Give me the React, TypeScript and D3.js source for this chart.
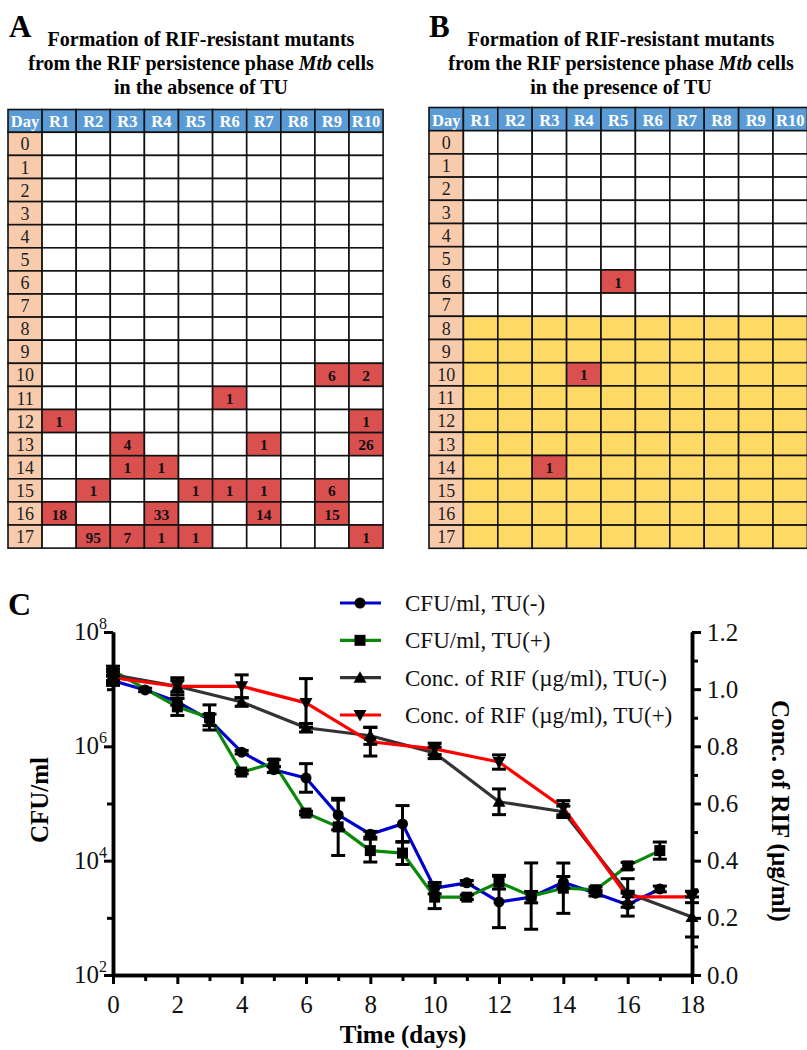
import React, { useEffect, useRef } from "react";
import * as d3 from "d3";

// ---- panels A and B: mutant tables ----
const DAYS = [0, 1, 2, 3, 4, 5, 6, 7, 8, 9, 10, 11, 12, 13, 14, 15, 16, 17];
const REPS = ["R1", "R2", "R3", "R4", "R5", "R6", "R7", "R8", "R9", "R10"];

// [day, replicate, number of RIF-resistant mutants]
const MUTANTS_NO_TU: [number, string, number][] = [
  [10, "R9", 6], [10, "R10", 2],
  [11, "R6", 1],
  [12, "R1", 1], [12, "R10", 1],
  [13, "R3", 4], [13, "R7", 1], [13, "R10", 26],
  [14, "R3", 1], [14, "R4", 1],
  [15, "R2", 1], [15, "R5", 1], [15, "R6", 1], [15, "R7", 1], [15, "R9", 6],
  [16, "R1", 18], [16, "R4", 33], [16, "R7", 14], [16, "R9", 15],
  [17, "R2", 95], [17, "R3", 7], [17, "R4", 1], [17, "R5", 1], [17, "R10", 1],
];
const MUTANTS_TU: [number, string, number][] = [
  [6, "R5", 1],
  [10, "R4", 1],
  [14, "R3", 1],
];
const TU_SHADE_FROM_DAY = 8;

const TITLE_A = ["Formation of RIF-resistant mutants", "from the RIF persistence phase |Mtb| cells", "in the absence of TU"];
const TITLE_B = ["Formation of RIF-resistant mutants", "from the RIF persistence phase |Mtb| cells", "in the presence of TU"];

// ---- panel C: kill curves and RIF concentration ----
const CFU_NEG_DAYS = [0, 1, 2, 3, 4, 5, 6, 7, 8, 9, 10, 11, 12, 13, 14, 15, 16, 17];
const CFU_NEG = [1.4e7, 9.7e6, 6.0e6, 2.9e6, 7.9e5, 3.9e5, 2.8e5, 6.3e4, 2.9e4, 4.4e4, 3.3e3, 4.1e3, 1.9e3, 2.3e3, 4.2e3, 2.7e3, 1.7e3, 3.2e3];
const CFU_NEG_ERR = [0.08, 0.03, 0.06, 0.1, 0.03, 0.05, 0.25, 0.26, 0.05, 0.32, 0.1, 0.04, 0.45, 0.1, 0.1, 0.05, 0.2, 0.05]; // log10 units

const CFU_POS_DAYS = [0, 2, 3, 4, 5, 6, 7, 8, 9, 10, 11, 12, 13, 14, 15, 16, 17];
const CFU_POS = [2.1e7, 4.9e6, 3.2e6, 3.55e5, 5.1e5, 6.8e4, 3.9e4, 1.5e4, 1.36e4, 2.3e3, 2.3e3, 4.2e3, 2.4e3, 3.3e3, 3.1e3, 8.1e3, 1.5e4];
const CFU_POS_ERR = [0.08, 0.15, 0.22, 0.03, 0.06, 0.03, 0.5, 0.2, 0.2, 0.2, 0.04, 0.12, 0.58, 0.44, 0.05, 0.06, 0.15];

const CONC_DAYS = [0, 2, 4, 6, 8, 10, 12, 14, 16, 18];
const CONC_NEG = [1.05, 1.01, 0.955, 0.865, 0.837, 0.777, 0.606, 0.571, 0.287, 0.203];
const CONC_NEG_SD = [0.02, 0.02, 0.015, 0.015, 0.03, 0.02, 0.045, 0.02, 0.05, 0.07];
const CONC_POS = [1.04, 1.01, 1.01, 0.952, 0.816, 0.791, 0.745, 0.585, 0.273, 0.273];
const CONC_POS_SD = [0.02, 0.03, 0.04, 0.085, 0.05, 0.02, 0.025, 0.025, 0.02, 0.02];

const LEGEND = ["CFU/ml, TU(-)", "CFU/ml, TU(+)", "Conc. of RIF (\u00b5g/ml), TU(-)", "Conc. of RIF (\u00b5g/ml), TU(+)"];
const X_TICKS = [0, 2, 4, 6, 8, 10, 12, 14, 16, 18];
const X_MINOR = [1, 3, 5, 7, 9, 11, 13, 15, 17];
const YL_TICKS = [1e2, 1e4, 1e6, 1e8];
const YL_MINOR = [1e3, 1e5, 1e7];
const YR_TICKS = [0, 0.2, 0.4, 0.6, 0.8, 1.0, 1.2];
const YR_MINOR = [0.1, 0.3, 0.5, 0.7, 0.9, 1.1];

const FONT = "'Liberation Serif', 'Times New Roman', serif";

function drawTitle(svg: any, lines: string[], cx: number, y0: number) {
  lines.forEach((line, i) => {
    const t = svg.append("text")
      .attr("x", cx).attr("y", y0 + i * 24)
      .attr("text-anchor", "middle")
      .style("font-family", FONT).style("font-weight", "bold").style("font-size", "20px")
    line.split("|").forEach((part, j) => {
      t.append("tspan").text(part).style("font-style", j % 2 === 1 ? "italic" : "normal")
    })
  })
}

function drawTable(svg: any, x0: number, y0: number, colW: number, headH: number, rowH: number,
  mutants: [number, string, number][], shadeFrom: number | null) {
  const cols = ["Day"].concat(REPS)
  const x = d3.scaleBand().domain(cols).range([x0, x0 + cols.length * colW])
  const y = d3.scaleBand().domain(DAYS.map(String)).range([y0 + headH, y0 + headH + DAYS.length * rowH])
  const g = svg.append("g")

  const lookup = new Map(mutants.map(m => [m[0] + "_" + m[1], m[2]]))

  g.selectAll("rect.head").data(cols).enter().append("rect")
    .attr("x", (d: string) => x(d)).attr("y", y0)
    .attr("width", colW).attr("height", headH)
    .style("fill", "#5b9bd5").style("stroke", "#111").style("stroke-width", 1.6)
  g.selectAll("text.head").data(cols).enter().append("text")
    .attr("x", (d: string) => x(d)! + colW / 2).attr("y", y0 + headH - 5)
    .attr("text-anchor", "middle")
    .style("font-family", FONT).style("font-weight", "bold").style("font-size", "16.5px")
    .style("fill", "#fff").text((d: string) => d)

  DAYS.forEach(day => {
    const ry = y(String(day))!
    g.append("rect").attr("x", x("Day")).attr("y", ry).attr("width", colW).attr("height", rowH)
      .style("fill", "#f8cbad").style("stroke", "#111").style("stroke-width", 1.6)
    g.append("text").attr("x", x("Day")! + colW / 2).attr("y", ry + rowH - 5)
      .attr("text-anchor", "middle")
      .style("font-family", FONT).style("font-size", "18px").style("fill", "#222")
      .text(day)
    REPS.forEach(rep => {
      const n = lookup.get(day + "_" + rep)
      let fill = "#ffffff"
      if (shadeFrom !== null && day >= shadeFrom) fill = "#ffd966"
      if (n !== undefined) fill = "#d9504f"
      g.append("rect").attr("x", x(rep)).attr("y", ry).attr("width", colW).attr("height", rowH)
        .style("fill", fill).style("stroke", "#111").style("stroke-width", 1.6)
      if (n !== undefined) {
        g.append("text").attr("x", x(rep)! + colW / 2).attr("y", ry + rowH - 5.5)
          .attr("text-anchor", "middle")
          .style("font-family", FONT).style("font-weight", "bold").style("font-size", "15.5px")
          .style("fill", "#111").text(n)
      }
    })
  })
}

function drawMarker(g: any, kind: string, cx: number, cy: number) {
  if (kind === "circle") {
    g.append("circle").attr("cx", cx).attr("cy", cy).attr("r", 5.5).style("fill", "#000")
  } else if (kind === "square") {
    g.append("rect").attr("x", cx - 5.5).attr("y", cy - 5.5).attr("width", 11).attr("height", 11).style("fill", "#000")
  } else if (kind === "up") {
    g.append("path").attr("d", `M${cx},${cy - 6.5}L${cx + 6.5},${cy + 5}L${cx - 6.5},${cy + 5}Z`).style("fill", "#000")
  } else {
    g.append("path").attr("d", `M${cx},${cy + 6.5}L${cx + 6.5},${cy - 5}L${cx - 6.5},${cy - 5}Z`).style("fill", "#000")
  }
}

function App() {
  const ref = useRef<SVGSVGElement>(null)

  useEffect(() => {
    const svg = d3.select(ref.current)
    svg.selectAll("*").remove()

    // panel letters and titles
    svg.append("text").attr("x", 9).attr("y", 37).text("A")
      .style("font-family", FONT).style("font-weight", "bold").style("font-size", "31px")
    svg.append("text").attr("x", 429).attr("y", 37).text("B")
      .style("font-family", FONT).style("font-weight", "bold").style("font-size", "31px")
    svg.append("text").attr("x", 8).attr("y", 615).text("C")
      .style("font-family", FONT).style("font-weight", "bold").style("font-size", "32px")
    drawTitle(svg, TITLE_A, 201, 46)
    drawTitle(svg, TITLE_B, 621, 46)

    drawTable(svg, 8, 109.5, 34.1, 22.8, 23.1, MUTANTS_NO_TU, null)
    drawTable(svg, 429, 107.5, 34.4, 23.2, 23.2, MUTANTS_TU, TU_SHADE_FROM_DAY)

    // ---- chart C ----
    const x = d3.scaleLinear().domain([0, 18]).range([113, 692])
    const yL = d3.scaleLog().domain([1e2, 1e8]).range([975, 632])
    const yR = d3.scaleLinear().domain([0, 1.2]).range([975, 632])

    const axisStyle = (g: any) => {
      g.select(".domain").style("stroke", "#000").style("stroke-width", 3.5)
      g.selectAll(".tick line").style("stroke", "#000").style("stroke-width", 3)
    }

    const gx = svg.append("g").attr("transform", "translate(0,975)")
      .call(d3.axisBottom(x).tickValues(X_TICKS).tickSize(9).tickSizeOuter(0).tickPadding(11).tickFormat(d3.format("d")))
    axisStyle(gx)
    gx.selectAll(".tick text").style("font-family", FONT).style("font-size", "25px").style("fill", "#111")
    svg.append("g").attr("transform", "translate(0,975)")
      .call(d3.axisBottom(x).tickValues(X_MINOR).tickSize(6).tickSizeOuter(0).tickFormat(() => ""))
      .call(axisStyle)

    const gl = svg.append("g").attr("transform", "translate(113,0)")
      .call(d3.axisLeft(yL).tickValues(YL_TICKS).tickSize(9).tickSizeOuter(0).tickFormat(() => ""))
    axisStyle(gl)
    svg.append("g").attr("transform", "translate(113,0)")
      .call(d3.axisLeft(yL).tickValues(YL_MINOR).tickSize(6).tickSizeOuter(0).tickFormat(() => ""))
      .call(axisStyle)
    YL_TICKS.forEach(v => {
      const t = svg.append("text").attr("x", 107).attr("y", yL(v) + 8).attr("text-anchor", "end")
        .style("font-family", FONT).style("font-size", "25px").style("fill", "#111")
      t.append("tspan").text("10")
      t.append("tspan").attr("dy", -11).style("font-size", "16px").text(Math.round(Math.log10(v)))
    })

    const gr = svg.append("g").attr("transform", "translate(692,0)")
      .call(d3.axisRight(yR).tickValues(YR_TICKS).tickSize(9).tickSizeOuter(0).tickPadding(6).tickFormat(d3.format(".1f")))
    axisStyle(gr)
    gr.selectAll(".tick text").style("font-family", FONT).style("font-size", "25px").style("fill", "#111")
    svg.append("g").attr("transform", "translate(692,0)")
      .call(d3.axisRight(yR).tickValues(YR_MINOR).tickSize(6).tickSizeOuter(0).tickFormat(() => ""))
      .call(axisStyle)

    svg.append("text").attr("x", 403).attr("y", 1043).attr("text-anchor", "middle")
      .style("font-family", FONT).style("font-weight", "bold").style("font-size", "25px").text("Time (days)")
    svg.append("text").attr("transform", "translate(48,800) rotate(-90)").attr("text-anchor", "middle")
      .style("font-family", FONT).style("font-weight", "bold").style("font-size", "25px").text("CFU/ml")
    svg.append("text").attr("transform", "translate(772,811) rotate(90)").attr("text-anchor", "middle")
      .style("font-family", FONT).style("font-weight", "bold").style("font-size", "25px").text("Conc. of RIF (\u00b5g/ml)")

    const series = [
      { days: CFU_NEG_DAYS, vals: CFU_NEG, err: CFU_NEG_ERR, log: true, color: "#0000cc", marker: "circle" },
      { days: CFU_POS_DAYS, vals: CFU_POS, err: CFU_POS_ERR, log: true, color: "#0a880a", marker: "square" },
      { days: CONC_DAYS, vals: CONC_NEG, err: CONC_NEG_SD, log: false, color: "#333333", marker: "up" },
      { days: CONC_DAYS, vals: CONC_POS, err: CONC_POS_SD, log: false, color: "#ff0000", marker: "down" },
    ]
    const py = (s: any, i: number) => s.log ? yL(s.vals[i]) : yR(s.vals[i])
    const plot = svg.append("g")

    series.forEach(s => {
      const line = d3.line<number>().x((d, i) => x(s.days[i])).y((d, i) => py(s, i))
      plot.append("path").attr("d", line(s.vals)).style("fill", "none")
        .style("stroke", s.color).style("stroke-width", 3.2).style("stroke-linejoin", "round")
    })
    series.forEach(s => {
      s.vals.forEach((v: number, i: number) => {
        const cx = x(s.days[i])
        const lo = s.log ? yL(Math.pow(10, Math.log10(v) - s.err[i])) : yR(v - s.err[i])
        const hi = s.log ? yL(Math.pow(10, Math.log10(v) + s.err[i])) : yR(v + s.err[i])
        const eb = plot.append("g").style("stroke", "#000").style("stroke-width", 3)
        eb.append("line").attr("x1", cx).attr("x2", cx).attr("y1", lo).attr("y2", hi)
        eb.append("line").attr("x1", cx - 7).attr("x2", cx + 7).attr("y1", lo).attr("y2", lo)
        eb.append("line").attr("x1", cx - 7).attr("x2", cx + 7).attr("y1", hi).attr("y2", hi)
      })
    })
    series.forEach(s => {
      s.vals.forEach((v: number, i: number) => drawMarker(plot, s.marker, x(s.days[i]), py(s, i)))
    })

    // legend
    const legY = d3.scalePoint().domain(LEGEND).range([603, 715])
    series.forEach((s, i) => {
      const ly = legY(LEGEND[i])!
      svg.append("line").attr("x1", 340).attr("x2", 381).attr("y1", ly).attr("y2", ly)
        .style("stroke", s.color).style("stroke-width", 3.2)
      drawMarker(svg, s.marker, 360, ly)
      svg.append("text").attr("x", 405).attr("y", ly + 8).text(LEGEND[i])
        .style("font-family", FONT).style("font-size", "23px").style("fill", "#111")
    })
  }, [])

  return (
    <svg ref={ref} width={807} height={1050}
      style={{ position: "absolute", left: 0, top: 0, background: "#fff" }} />
  )
}

export default App
